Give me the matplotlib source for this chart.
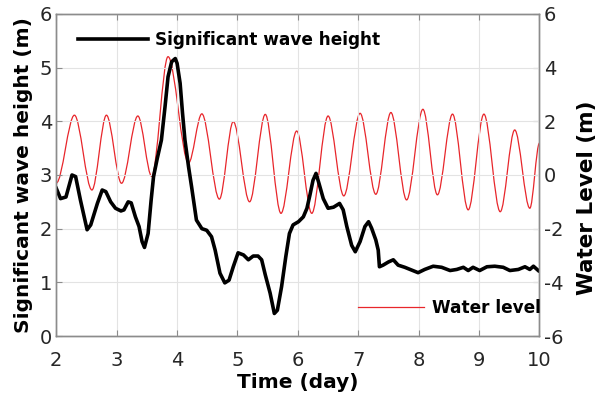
import matplotlib
matplotlib.use("Agg")
import matplotlib.pyplot as plt
from matplotlib.path import Path
from matplotlib.patches import PathPatch
from matplotlib.lines import Line2D

# Significant wave height (m) vs time (day)
hs_t = [2.00, 2.07, 2.16, 2.26, 2.32, 2.40, 2.51, 2.57, 2.68, 2.76, 2.82, 2.90, 2.98,
        3.07, 3.12, 3.19, 3.24, 3.31, 3.37, 3.42, 3.46, 3.52, 3.57, 3.61, 3.67, 3.74,
        3.80, 3.85, 3.91, 3.97, 4.00, 4.05, 4.09, 4.13, 4.19, 4.24, 4.32, 4.41, 4.49,
        4.57, 4.63, 4.71, 4.79, 4.86, 4.93, 5.01, 5.10, 5.18, 5.26, 5.34, 5.40, 5.46,
        5.54, 5.61, 5.66, 5.73, 5.80, 5.86, 5.92, 6.01, 6.09, 6.15, 6.20, 6.25, 6.30,
        6.35, 6.42, 6.50, 6.59, 6.69, 6.75, 6.81, 6.89, 6.95, 7.03, 7.11, 7.17, 7.22,
        7.29, 7.33, 7.35, 7.41, 7.50, 7.58, 7.66, 7.77, 7.88, 7.99, 8.10, 8.24, 8.38,
        8.52, 8.63, 8.74, 8.82, 8.90, 9.01, 9.13, 9.26, 9.40, 9.51, 9.65, 9.76, 9.84,
        9.90, 9.98]
hs = [2.75, 2.56, 2.59, 3.00, 2.97, 2.53, 1.98, 2.07, 2.47, 2.72, 2.69, 2.50, 2.38,
      2.33, 2.35, 2.50, 2.48, 2.22, 2.04, 1.76, 1.65, 1.91, 2.53, 2.97, 3.30, 3.65,
      4.27, 4.83, 5.11, 5.17, 5.08, 4.71, 4.15, 3.65, 3.15, 2.78, 2.16, 2.00, 1.97,
      1.85, 1.60, 1.17, 0.99, 1.04, 1.29, 1.55, 1.51, 1.42, 1.49, 1.49, 1.42, 1.14,
      0.80, 0.42, 0.48, 0.92, 1.48, 1.91, 2.07, 2.13, 2.22, 2.38, 2.63, 2.90, 3.03,
      2.84, 2.56, 2.38, 2.40, 2.47, 2.35, 2.04, 1.69, 1.57, 1.76, 2.04, 2.13, 2.01,
      1.79, 1.60, 1.29, 1.32, 1.38, 1.42, 1.32, 1.28, 1.23, 1.18, 1.24, 1.30, 1.28,
      1.22, 1.24, 1.28, 1.22, 1.28, 1.22, 1.29, 1.30, 1.28, 1.22, 1.24, 1.29, 1.24,
      1.30, 1.22]

# Water level (m): successive turning points (peaks / troughs)
wl_t = [2.00, 2.30, 2.59, 2.83, 3.08, 3.35, 3.58, 3.85, 4.19, 4.41, 4.70, 4.93, 5.20,
        5.46, 5.72, 5.98, 6.23, 6.50, 6.76, 7.03, 7.29, 7.54, 7.80, 8.07, 8.31, 8.56,
        8.82, 9.08, 9.35, 9.59, 9.84, 10.00]
wl = [-0.30, 2.23, -0.56, 2.23, -0.31, 2.20, -0.05, 4.41, 0.45, 2.28, -0.90, 1.99, -1.00,
      2.26, -1.43, 1.64, -1.43, 2.20, -0.78, 2.30, -0.72, 2.33, -0.93, 2.45, -0.74, 2.27,
      -1.30, 2.27, -1.37, 1.68, -1.24, 1.19]

x_ticks = [2, 3, 4, 5, 6, 7, 8, 9, 10]
left_ticks = [0, 1, 2, 3, 4, 5, 6]
right_ticks = [-6, -4, -2, 0, 2, 4, 6]

plt.rcParams['font.family'] = ['DejaVu Sans']

fig = plt.figure(figsize=(6.08, 3.94), dpi=100)
ax = fig.add_axes([0.0926, 0.1472, 0.7947, 0.8173])
ax2 = ax.twinx()

spine_col = '#8c8c8c'
tick_col = '#262626'
red = '#e8262b'

# water level on right axis, smooth curve through turning points
verts = [(wl_t[0], wl[0])]
codes = [Path.MOVETO]
for i in range(1, len(wl_t)):
    t0, t1 = wl_t[i - 1], wl_t[i]
    v0, v1 = wl[i - 1], wl[i]
    dt = t1 - t0
    verts += [(t0 + dt / 3, v0), (t1 - dt / 3, v1), (t1, v1)]
    codes += [Path.CURVE4] * 3
patch = PathPatch(Path(verts, codes), fill=False, edgecolor=red, lw=0.9,
                  transform=ax2.transData, capstyle='round', joinstyle='round')
ax2.add_patch(patch)

ax.plot(hs_t, hs, color='black', lw=2.6, solid_joinstyle='round')

ax.set_zorder(ax2.get_zorder() + 1)
ax.patch.set_visible(False)

ax.set_xlim(2, 10)
ax.set_ylim(0, 6)
ax2.set_ylim(-6, 6)
ax.set_xticks(x_ticks)
ax.set_yticks(left_ticks)
ax2.set_yticks(right_ticks)
ax.set_xticklabels([str(v) for v in x_ticks])
ax.set_yticklabels([str(v) for v in left_ticks])
ax2.set_yticklabels([str(v) for v in right_ticks])

ax.grid(True, color='#e3e3e3', lw=0.8)
ax.set_axisbelow(True)

for a in (ax, ax2):
    for s in a.spines.values():
        s.set_color(spine_col)
        s.set_linewidth(1.0)
ax.tick_params(axis='both', direction='in', length=4, width=0.8, color=spine_col,
               labelsize=14, labelcolor=tick_col, top=True, right=False)
ax.tick_params(axis='x', pad=11)
ax.tick_params(axis='y', pad=3)
ax2.tick_params(axis='y', direction='in', length=4, width=0.8, color=spine_col,
                labelsize=14, labelcolor=tick_col, pad=3)

ax.set_xlabel('Time (day)', fontsize=14.5, fontweight='bold', labelpad=2)
ax.set_ylabel('Significant wave height (m)', fontsize=14.5, fontweight='bold', labelpad=5)
ax2.set_ylabel('Water Level (m)', fontsize=15.5, fontweight='bold', rotation=90, labelpad=10)
ax2.yaxis.label.set_y(0.43)

h1 = Line2D([], [], color='black', lw=2.6)
h2 = Line2D([], [], color=red, lw=0.9)
leg1 = ax.legend([h1], ['Significant wave height'], loc='center left',
                 bbox_to_anchor=(0.045, 0.919), frameon=False, borderpad=0,
                 borderaxespad=0, handlelength=4.1, handletextpad=0.45,
                 prop={'weight': 'bold', 'size': 12.2})
ax.add_artist(leg1)
leg2 = ax.legend([h2], ['Water level'], loc='center left',
                 bbox_to_anchor=(0.624, 0.087), frameon=False, borderpad=0,
                 borderaxespad=0, handlelength=3.9, handletextpad=0.45,
                 prop={'weight': 'bold', 'size': 12.2})

fig.savefig('out.png', dpi=100)
